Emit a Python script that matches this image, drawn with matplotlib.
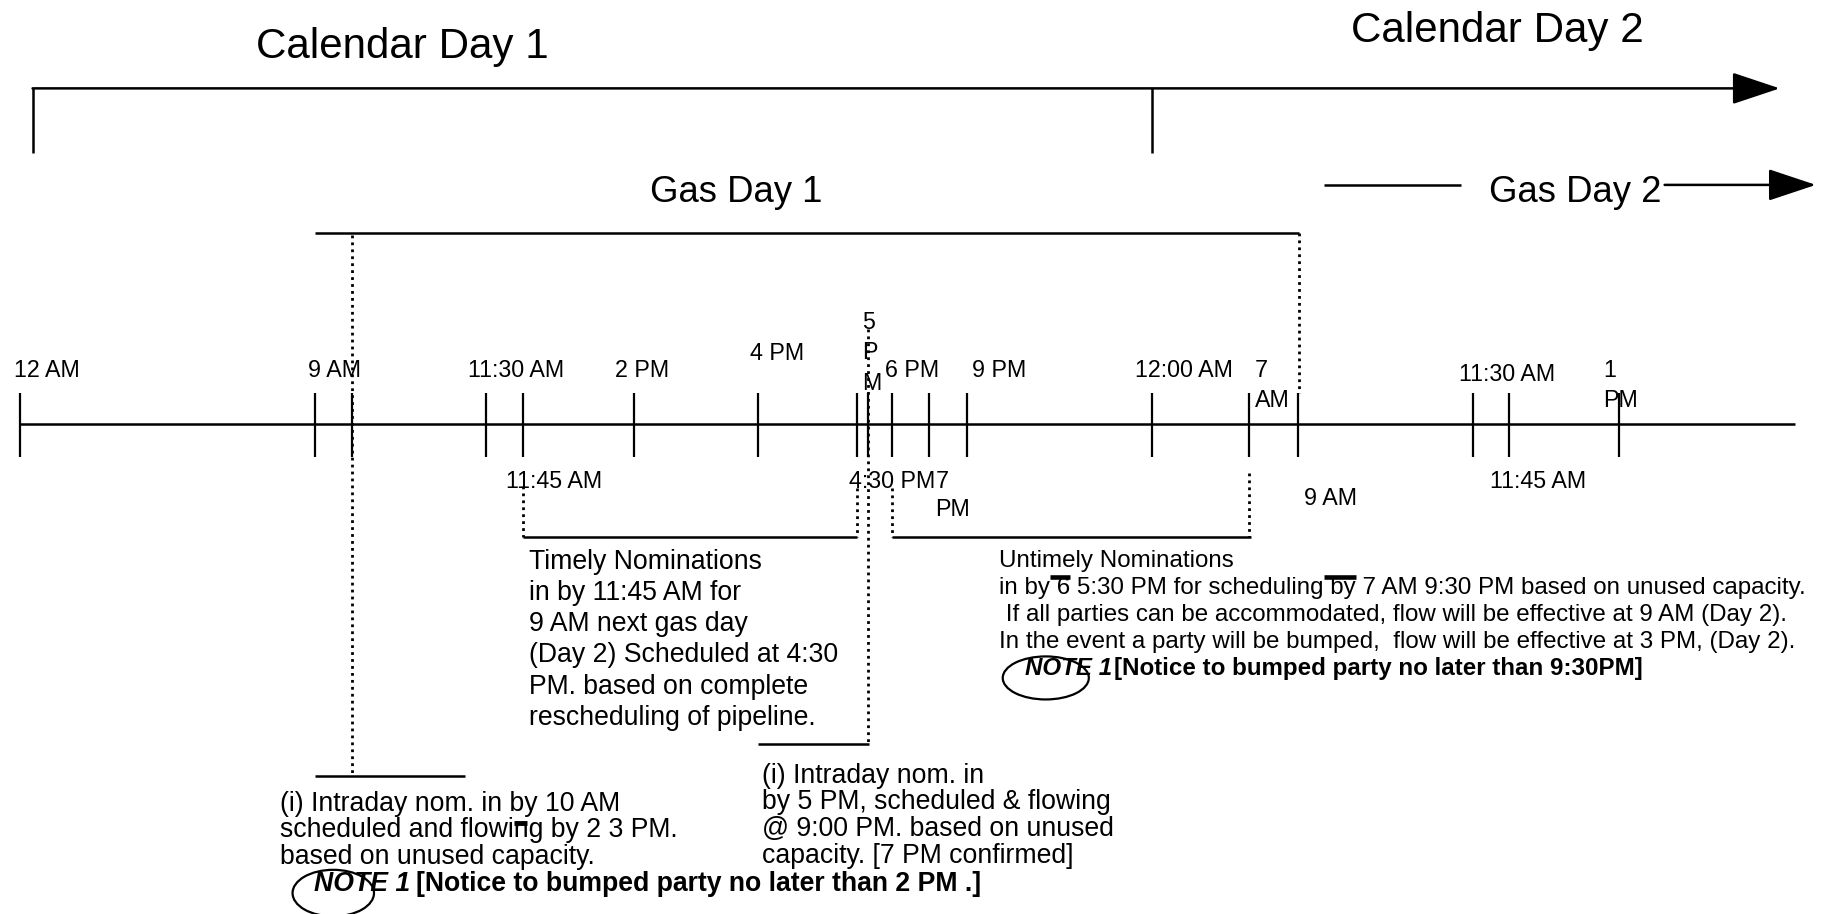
import matplotlib
matplotlib.use("Agg")
import matplotlib.pyplot as plt
from matplotlib.patches import Ellipse

# drawing units = reference pixels as displayed (1568 x 786)
W, H = 1568, 786
S = 1824 / 1568 * 0.72   # em in drawing units -> points

plt.rcParams['font.family'] = ['Liberation Sans', 'DejaVu Sans']

# timeline ticks
tick_x = [17, 271, 303, 418, 450, 545, 652, 737, 746, 767, 799, 831,
          990, 1074, 1116, 1266, 1297, 1392]

# labels above the line (left x, first baseline)
top_labels = ["12 AM", "9 AM", "11:30 AM", "2 PM", "4 PM", "5\nP\nM", "6 PM",
              "9 PM", "12:00 AM", "7\nAM", "11:30 AM", "1\nPM"]
top_label_x = [12, 265, 402, 529, 645, 741, 761, 836, 976, 1079, 1254, 1378]
top_label_y = [324, 324, 324, 324, 310, 283, 324, 324, 324, 324, 328, 324]

# labels below the line
bottom_labels = ["11:45 AM", "4:30 PM", "7\nPM", "9 AM", "11:45 AM"]
bottom_label_x = [435, 730, 804, 1121, 1281]
bottom_label_y = [420, 420, 420, 434, 420]

timely_lines = ["Timely Nominations",
                "in by 11:45 AM for",
                "9 AM next gas day",
                "(Day 2) Scheduled at 4:30",
                "PM. based on complete",
                "rescheduling of pipeline."]

untimely_lines = ["Untimely Nominations",
                  "in by 6 5:30 PM for scheduling by 7 AM 9:30 PM based on unused capacity.",
                  " If all parties can be accommodated, flow will be effective at 9 AM (Day 2).",
                  "In the event a party will be bumped,  flow will be effective at 3 PM, (Day 2)."]

intraday1_lines = ["(i) Intraday nom. in by 10 AM",
                   "scheduled and flowing by 2 3 PM.",
                   "based on unused capacity."]

intraday2_lines = ["(i) Intraday nom. in",
                   "by 5 PM, scheduled & flowing",
                   "@ 9:00 PM. based on unused",
                   "capacity. [7 PM confirmed]"]

note_head = "NOTE 1"
note1_tail = "[Notice to bumped party no later than 2 PM .]"
note2_tail = "[Notice to bumped party no later than 9:30PM]"

CAL = 36.2 * S
GAS = 31.4 * S
TICK = 20 * S
BODY = 22.9 * S
UNT = 20.8 * S
LW = 1.8

fig = plt.figure(figsize=(18.24, 9.14), dpi=100)
ax = fig.add_axes([0, 0, 1, 1])
ax.set_xlim(0, W)
ax.set_ylim(H, 0)
ax.axis('off')
renderer = fig.canvas.get_renderer()


def width_of(s, **kw):
    t = ax.text(0, 0, s, **kw)
    w = t.get_window_extent(renderer=renderer).width * W / fig.bbox.width
    t.remove()
    return w


def put_lines(x, y, lines, gap, **kw):
    for i, s in enumerate(lines):
        ax.text(x, y + i * gap, s, ha='left', va='baseline', **kw)


def hline(x0, x1, y, lw=LW):
    ax.plot([x0, x1], [y, y], color='black', lw=lw, solid_capstyle='butt')


def vline(x, y0, y1, lw=LW):
    ax.plot([x, x], [y0, y1], color='black', lw=lw, solid_capstyle='butt')


def dotted(x, y0, y1):
    ax.plot([x, x], [y0, y1], color='black', lw=2.0, linestyle=(0, (1, 1.5)))


def arrow(x0, x1, y):
    ax.annotate("", xy=(x1, y), xytext=(x0, y),
                arrowprops=dict(arrowstyle="-|>,head_length=1.5,head_width=0.5",
                                mutation_scale=20, lw=LW, color='black',
                                shrinkA=0, shrinkB=0))


def strike(x, y, prefix, struck, size, lw=3.3, frac=1.0, rise=0.72):
    end = width_of(prefix + struck, fontsize=size)
    start = end - width_of(struck, fontsize=size)
    end = start + (end - start) * frac
    yb = y - rise * size / S
    ax.plot([x + start, x + end], [yb, yb], color='black', lw=lw,
            solid_capstyle='butt')


def note(x, y, tail_x, tail, size):
    ax.text(x, y, note_head, fontsize=size, fontweight='bold',
            fontstyle='italic', ha='left', va='baseline')
    ax.text(tail_x, y, tail, fontsize=size, fontweight='bold',
            ha='left', va='baseline')


# ---- calendar days
ax.text(346, 50, "Calendar Day 1", fontsize=CAL, ha='center', va='baseline')
ax.text(1287, 36, "Calendar Day 2", fontsize=CAL, ha='center', va='baseline')
arrow(28, 1530, 76)
vline(28, 76, 132)
vline(990, 76, 132)

# ---- gas days
ax.text(633, 174, "Gas Day 1", fontsize=GAS, ha='center', va='baseline')
hline(271, 1117, 200)
ax.text(1354, 174, "Gas Day 2", fontsize=GAS, ha='center', va='baseline')
hline(1138, 1256, 159)
arrow(1431, 1561, 159)

# ---- main timeline
hline(17, 1543, 365)
for x in tick_x:
    vline(x, 338, 393, lw=1.6)

for s, x, y in zip(top_labels, top_label_x, top_label_y):
    put_lines(x, y, s.split("\n"), 26, fontsize=TICK)
for s, x, y in zip(bottom_labels, bottom_label_x, bottom_label_y):
    put_lines(x, y, s.split("\n"), 24, fontsize=TICK)

# ---- dotted guides
dotted(303, 202, 667)
dotted(1117, 200, 338)
dotted(450, 418, 462)
dotted(737, 420, 462)
dotted(746, 283, 640)
dotted(767, 420, 462)
dotted(1074, 407, 462)

# ---- bracket bars
hline(450, 737, 462)
hline(767, 1075, 462)
hline(652, 747, 640)
hline(271, 400, 667)

# ---- text blocks
put_lines(455, 489, timely_lines, 26.9, fontsize=BODY)

ux, uy, ug = 859, 488, 23.2
put_lines(ux, uy, untimely_lines, ug, fontsize=UNT)
strike(ux, uy + ug, "in by", " 6", UNT)
strike(ux, uy + ug, "in by 6 5:30 PM for scheduling", " by", UNT)

put_lines(655, 673, intraday2_lines, 23, fontsize=BODY)

ix, iy, ig = 241, 697, 23
put_lines(ix, iy, intraday1_lines, ig, fontsize=BODY)
strike(ix, iy + ig, "scheduled and flowi", "n", BODY, lw=3.5, frac=0.85, rise=0.55)

# ---- notes with circled "NOTE"
note(270, iy + 3 * ig, 358, note1_tail, BODY)
ax.add_patch(Ellipse((286.5, 768), 70, 40, fill=False, lw=1.6, color='black'))

note(881, uy + 4 * ug, 958, note2_tail, UNT)
ax.add_patch(Ellipse((899, 583), 74, 37, fill=False, lw=1.6, color='black'))

fig.savefig("out.png", dpi=100, facecolor='white')
